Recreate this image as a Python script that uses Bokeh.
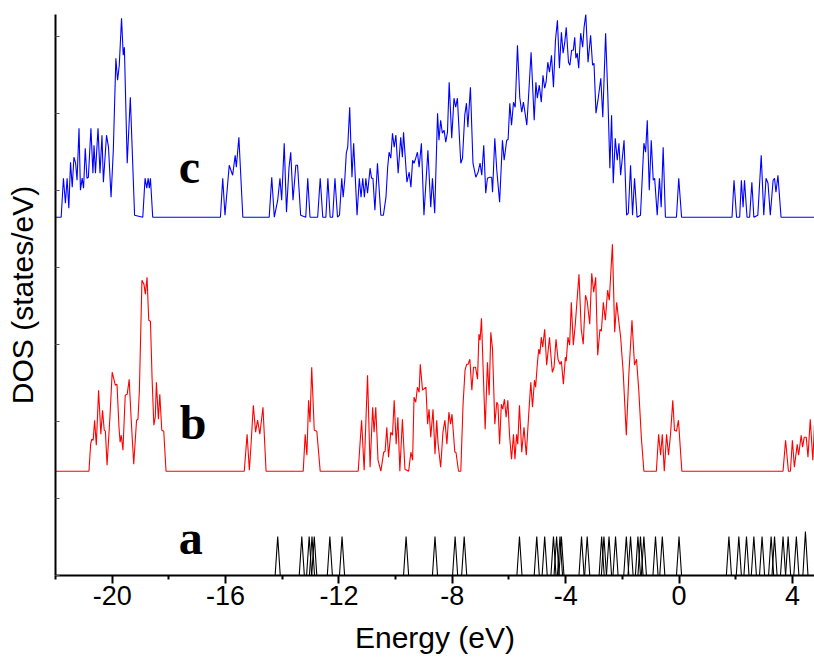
import numpy as np
from bokeh.plotting import figure
from bokeh.models import Range1d, FixedTicker, Label, CustomJSTickFormatter
from bokeh.embed import file_html
from bokeh.resources import INLINE

# ---------------- data ----------------
# curve c (blue, top)
c_energy = [-22.00, -21.80, -21.72, -21.65, -21.59, -21.53, -21.47, -21.41, -21.35, -21.29, -21.24, -21.17, -21.12, -21.06, -21.01,
            -20.95, -20.89, -20.84, -20.75, -20.68, -20.64, -20.59, -20.50, -20.43, -20.36, -20.31, -20.20, -20.13, -20.04, -19.96,
            -19.87, -19.81, -19.75, -19.67, -19.61, -19.57, -19.47, -19.36, -19.21, -18.92, -18.84, -18.78, -18.73, -18.69, -18.65,
            -18.57, -16.18, -16.10, -16.02, -15.87, -15.75, -15.66, -15.62, -15.53, -15.39, -14.46, -14.37, -14.28, -14.16, -14.08,
            -14.02, -13.93, -13.85, -13.76, -13.70, -13.62, -13.52, -13.46, -13.35, -13.17, -13.10, -13.02, -12.75, -12.66, -12.57,
            -12.46, -12.39, -12.31, -12.22, -12.14, -12.05, -11.98, -11.90, -11.85, -11.79, -11.74, -11.69, -11.62, -11.54, -11.48,
            -11.36, -11.28, -11.22, -11.16, -11.10, -11.05, -10.99, -10.90, -10.85, -10.80, -10.73, -10.64, -10.52, -10.43, -10.34,
            -10.28, -10.23, -10.17, -10.11, -10.05, -9.99, -9.91, -9.82, -9.76, -9.72, -9.60, -9.52, -9.46, -9.40, -9.35,
            -9.29, -9.23, -9.17, -9.09, -9.00, -8.86, -8.76, -8.70, -8.62, -8.52, -8.47, -8.41, -8.35, -8.29, -8.23,
            -8.17, -8.11, -8.02, -7.94, -7.88, -7.82, -7.70, -7.64, -7.56, -7.50, -7.45, -7.36, -7.27, -7.17, -7.09,
            -7.02, -6.96, -6.89, -6.82, -6.76, -6.68, -6.61, -6.58, -6.50, -6.43, -6.33, -6.23, -6.17, -6.08, -6.03,
            -5.97, -5.91, -5.84, -5.78, -5.70, -5.62, -5.55, -5.49, -5.37, -5.29, -5.22, -5.11, -5.05, -5.00, -4.93,
            -4.86, -4.80, -4.74, -4.69, -4.63, -4.57, -4.50, -4.43, -4.36, -4.29, -4.22, -4.15, -4.09, -4.03, -3.98,
            -3.90, -3.85, -3.79, -3.73, -3.68, -3.64, -3.59, -3.54, -3.47, -3.40, -3.35, -3.29, -3.21, -3.12, -3.05,
            -3.00, -2.93, -2.86, -2.76, -2.69, -2.59, -2.51, -2.44, -2.38, -2.32, -2.25, -2.18, -2.12, -2.06, -1.94,
            -1.85, -1.79, -1.71, -1.64, -1.57, -1.48, -1.36, -1.24, -1.18, -1.12, -1.05, -0.98, -0.91, -0.86, -0.77,
            -0.69, -0.63, -0.56, -0.48, -0.09, -0.01, 0.09, 1.87, 1.94, 2.03, 2.14, 2.20, 2.26, 2.31, 2.40,
            2.49, 2.57, 2.64, 2.78, 2.90, 2.99, 3.07, 3.14, 3.22, 3.32, 3.37, 3.42, 3.49, 3.60, 4.80]
c_dos = [0, 0, 3.9, 1.4, 3.9, 0.9, 5.5, 3.0, 6.0, 5.4, 3.7, 8.9, 2.7, 3.9, 2.9,
         6.9, 3.9, 4.0, 8.9, 4.4, 7.2, 4.4, 8.9, 4.4, 8.2, 3.5, 8.2, 7.0, 2.0, 6.7,
         15.9, 13.7, 15.2, 19.9, 16.2, 17.0, 5.4, 12.0, 0.2, 0, 3.9, 2.9, 3.9, 2.9, 3.9,
         0, 0, 3.9, 0.2, 5.2, 4.2, 6.2, 5.0, 8.0, 0, 0, 4.0, 0, 1.7, 3.9,
         1.7, 7.4, 0.5, 5.0, 6.5, 1.7, 5.2, 5.2, 0.2, 0, 3.9, 0, 0, 3.9, 0,
         0, 3.9, 0, 0, 3.9, 0, 0.2, 3.9, 2.0, 3.9, 6.4, 7.0, 11.0, 4.0, 7.4,
         0.2, 3.9, 2.0, 3.9, 2.0, 3.9, 2.4, 4.9, 3.9, 3.9, 0.7, 5.4, 0.2, 0.2, 2.0,
         5.0, 6.5, 5.9, 8.4, 7.0, 8.2, 4.4, 8.0, 6.0, 8.5, 3.5, 4.5, 3.0, 5.7, 5.4,
         5.9, 6.5, 5.0, 7.4, 0.2, 6.7, 1.0, 3.9, 0.4, 10.4, 7.7, 9.7, 8.4, 8.7, 7.5,
         8.5, 13.5, 7.9, 11.9, 11.0, 11.9, 5.4, 5.9, 10.2, 11.4, 9.0, 13.0, 5.4, 4.0, 4.5,
         5.4, 4.2, 7.2, 2.4, 3.9, 4.0, 4.0, 2.5, 7.9, 4.7, 1.5, 7.7, 5.7, 7.7, 7.8,
         11.4, 9.2, 11.5, 11.0, 17.2, 12.0, 10.5, 11.5, 9.2, 13.0, 16.5, 9.7, 13.5, 11.9, 13.2,
         11.5, 14.2, 12.9, 13.5, 15.5, 14.5, 16.2, 13.0, 17.7, 19.7, 14.9, 18.5, 16.4, 17.5, 19.0,
         15.5, 15.2, 16.7, 16.7, 18.0, 15.9, 16.4, 14.9, 18.4, 17.0, 19.0, 20.3, 15.5, 18.2, 15.2,
         15.4, 10.4, 11.7, 13.9, 10.0, 18.4, 12.0, 4.9, 10.2, 3.4, 7.9, 5.7, 7.4, 4.2, 7.7,
         0.2, 0.4, 5.2, 0.2, 3.9, 0, 0.2, 7.4, 6.5, 9.7, 2.7, 7.7, 3.7, 3.9, 0.2,
         3.9, 1.0, 7.0, 0, 0, 3.9, 0, 0, 3.7, 0, 0, 3.7, 1.0, 3.7, 0,
         0, 3.5, 0, 0.2, 6.2, 0.2, 3.9, 3.4, 0.2, 3.7, 3.9, 2.5, 4.2, 0, 0]

# curve b (red, middle)
b_energy = [-22.00, -20.82, -20.76, -20.72, -20.67, -20.62, -20.56, -20.48, -20.40, -20.34, -20.28, -20.24, -20.18, -20.08, -20.00,
            -19.94, -19.89, -19.83, -19.76, -19.72, -19.68, -19.62, -19.54, -19.47, -19.40, -19.33, -19.24, -19.14, -19.09, -19.04,
            -18.95, -18.88, -18.83, -18.77, -18.71, -18.65, -18.59, -18.53, -18.48, -18.44, -18.37, -18.32, -18.25, -18.18, -18.10,
            -15.34, -15.24, -15.16, -15.10, -15.02, -14.94, -14.87, -14.79, -14.68, -14.57, -13.26, -13.19, -13.13, -13.07, -13.02,
            -12.96, -12.87, -12.78, -12.66, -11.32, -11.20, -11.11, -10.99, -10.90, -10.81, -10.76, -10.70, -10.62, -10.52, -10.42,
            -10.37, -10.31, -10.25, -10.17, -10.11, -10.05, -9.98, -9.92, -9.85, -9.76, -9.67, -9.54, -9.46, -9.40, -9.35,
            -9.29, -9.23, -9.17, -9.13, -9.05, -8.93, -8.87, -8.82, -8.76, -8.68, -8.61, -8.55, -8.50, -8.41, -8.33,
            -8.26, -8.19, -8.12, -8.06, -8.01, -7.91, -7.87, -7.78, -7.70, -7.62, -7.55, -7.49, -7.44, -7.38, -7.31,
            -7.25, -7.18, -7.11, -7.06, -7.02, -6.97, -6.91, -6.84, -6.76, -6.70, -6.64, -6.58, -6.50, -6.43, -6.39,
            -6.33, -6.27, -6.22, -6.16, -6.10, -6.04, -5.98, -5.91, -5.84, -5.79, -5.73, -5.69, -5.63, -5.55, -5.47,
            -5.39, -5.31, -5.23, -5.17, -5.10, -5.06, -5.00, -4.95, -4.91, -4.86, -4.81, -4.74, -4.67, -4.57, -4.53,
            -4.47, -4.41, -4.34, -4.27, -4.20, -4.15, -4.08, -4.01, -3.98, -3.92, -3.86, -3.80, -3.73, -3.66, -3.59,
            -3.53, -3.45, -3.38, -3.30, -3.24, -3.15, -3.08, -3.01, -2.94, -2.87, -2.79, -2.74, -2.67, -2.60, -2.52,
            -2.46, -2.35, -2.27, -2.20, -2.13, -2.06, -1.97, -1.86, -1.77, -1.66, -1.57, -1.50, -1.42, -1.33, -1.24,
            -0.80, -0.72, -0.65, -0.59, -0.52, -0.44, -0.37, -0.30, -0.22, -0.16, -0.09, -0.02, 0.10, 3.67, 3.76,
            3.86, 3.93, 4.00, 4.07, 4.17, 4.22, 4.31, 4.36, 4.42, 4.49, 4.55, 4.63, 4.72, 4.78]
b_dos = [0, 0, 2.7, 3.2, 3.1, 5.1, 2.6, 8.1, 3.7, 6.1, 4.1, 4.0, 0.6, 5.4, 9.9,
         9.2, 8.6, 8.7, 4.4, 2.9, 3.6, 2.1, 7.6, 7.7, 9.2, 5.2, 0.7, 5.1, 5.2, 8.1,
         19.1, 18.7, 17.7, 19.4, 15.1, 15.0, 9.1, 4.6, 5.4, 8.9, 5.2, 7.7, 4.1, 4.0, 0,
         0, 3.7, 0.1, 2.7, 6.6, 3.9, 5.1, 3.7, 6.4, 0, 0, 3.7, 1.6, 7.1, 4.9,
         10.4, 4.1, 4.0, 0, 0, 5.1, 0.1, 9.6, 0.4, 6.4, 3.9, 6.4, 1.1, 0, 1.9,
         2.0, 4.4, 1.4, 3.9, 3.6, 7.1, 2.7, 5.4, 0, 5.2, 0.2, 0, 1.9, 1.1, 7.4,
         6.9, 8.4, 7.9, 10.7, 8.1, 8.4, 4.7, 6.2, 3.4, 6.2, 1.7, 5.1, 2.7, 0.4, 3.9,
         5.1, 2.7, 5.9, 4.7, 5.7, 1.9, 1.9, 0, 0, 6.7, 10.1, 10.7, 10.7, 11.2, 8.1,
         10.4, 10.4, 9.2, 13.7, 13.1, 15.3, 10.1, 4.2, 10.9, 7.6, 13.9, 12.2, 4.7, 6.9, 6.7,
         2.7, 6.7, 6.2, 7.2, 5.4, 7.1, 3.6, 1.2, 3.7, 1.2, 3.7, 2.7, 6.6, 1.9, 4.4,
         1.6, 5.4, 8.9, 6.4, 9.1, 8.4, 10.7, 12.2, 11.7, 13.4, 12.4, 14.2, 10.6, 13.4, 11.9,
         9.9, 10.4, 13.2, 11.2, 10.7, 11.0, 8.7, 11.4, 11.0, 13.4, 12.6, 16.9, 12.6, 14.7, 17.4,
         19.7, 14.2, 12.7, 17.6, 17.0, 14.7, 19.8, 17.9, 19.4, 11.6, 14.2, 14.0, 16.9, 15.1, 18.1,
         17.1, 22.7, 13.9, 16.9, 15.1, 13.4, 9.9, 3.6, 9.7, 15.1, 10.6, 11.2, 8.1, 3.4, 0,
         0, 3.7, 1.6, 3.7, 0, 3.7, 1.6, 3.7, 7.1, 4.1, 4.0, 5.1, 0, 0, 3.1,
         0, 0, 3.1, 0.4, 2.7, 1.6, 3.6, 2.4, 3.4, 3.4, 1.4, 5.2, 1.1, 4.7]

# curve a (black, bottom): discrete levels
a_levels = [-14.16, -13.31, -13.05, -12.95, -12.87, -12.32, -11.89, -9.63, -8.61, -7.90, -7.58,
            -5.63, -5.02, -4.74, -4.43, -4.32, -4.20, -4.15, -3.44, -3.24, -2.73, -2.65, -2.47,
            -2.24, -1.86, -1.71, -1.45, -1.36, -1.24, -0.83, -0.59, 0.00, 1.76, 2.11, 2.38, 2.64,
            2.93, 3.25, 3.37, 3.67, 3.85, 4.14, 4.46]
a_heights = [3.9] * 42 + [4.4]

x_ticks = [-20, -16, -12, -8, -4, 0, 4]
x_minor = [-22, -18, -14, -10, -6, -2, 2]
y_ticks = [0, 7.7, 15.4, 23.1, 30.8, 38.5, 46.2, 53.9]

curve_labels = ["a", "b", "c"]

# ---------------- layout / style ----------------
B_OFFSET = 10.43
C_OFFSET = 35.83
SPIKE_HALF = 0.09

p = figure(width=814, height=662, output_backend="svg", toolbar_location=None,
           x_range=Range1d(-22, 4.78), y_range=Range1d(0, 56.1),
           min_border_left=55, min_border_right=0, min_border_top=14, min_border_bottom=87)
p.xgrid.visible = False
p.ygrid.visible = False
p.outline_line_color = None
p.background_fill_color = "white"
p.border_fill_color = "white"

# curves
p.line(np.array(c_energy), np.array(c_dos) + C_OFFSET, line_color="#0000ff", line_width=1.1)
p.line(np.array(b_energy), np.array(b_dos) + B_OFFSET, line_color="#ff0000", line_width=1.1)
xs = [[e - SPIKE_HALF, e, e + SPIKE_HALF] for e in a_levels]
ys = [[0, h, 0] for h in a_heights]
p.multi_line(xs, ys, line_color="black", line_width=1.1)

# labels
label_pos = [(-17.65, 3.8), (-17.62, 15.3), (-17.65, 40.9)]
for t, (lx, ly) in zip(curve_labels, label_pos):
    p.add_layout(Label(x=lx, y=ly, text=t, text_font="Liberation Serif", text_font_style="bold",
                       text_font_size="48px", text_color="black", text_baseline="alphabetic",
                       text_align="left"))

# x axis
xa = p.xaxis[0]
xa.ticker = FixedTicker(ticks=x_ticks, minor_ticks=x_minor)
xa.formatter = CustomJSTickFormatter(code="return String(Math.round(tick));")
xa.axis_label = "Energy (eV)"
xa.axis_label_text_font = "Liberation Sans"
xa.axis_label_text_font_style = "normal"
xa.axis_label_text_font_size = "30px"
xa.axis_label_text_color = "black"
xa.axis_label_standoff = 13
xa.major_label_text_font = "Liberation Sans"
xa.major_label_text_font_size = "27px"
xa.major_label_text_color = "black"
xa.major_label_standoff = 2
xa.axis_line_width = 2
xa.axis_line_color = "black"
xa.major_tick_line_width = 2
xa.minor_tick_line_width = 2
xa.major_tick_line_color = "black"
xa.minor_tick_line_color = "black"
xa.major_tick_in = 0
xa.major_tick_out = 8
xa.minor_tick_in = 0
xa.minor_tick_out = 4

# y axis
ya = p.yaxis[0]
ya.ticker = FixedTicker(ticks=y_ticks, minor_ticks=[])
ya.formatter = CustomJSTickFormatter(code="return '';")
ya.axis_label = "DOS (states/eV)"
ya.axis_label_text_font = "Liberation Sans"
ya.axis_label_text_font_style = "normal"
ya.axis_label_text_font_size = "30px"
ya.axis_label_text_color = "black"
ya.axis_label_standoff = 17
ya.major_label_standoff = 0
ya.axis_line_width = 2
ya.axis_line_color = "black"
ya.major_tick_in = 4
ya.major_tick_out = 0
ya.major_tick_line_width = 1
ya.major_tick_line_color = "#555555"

open("out.html", "w").write(file_html(p, INLINE))
